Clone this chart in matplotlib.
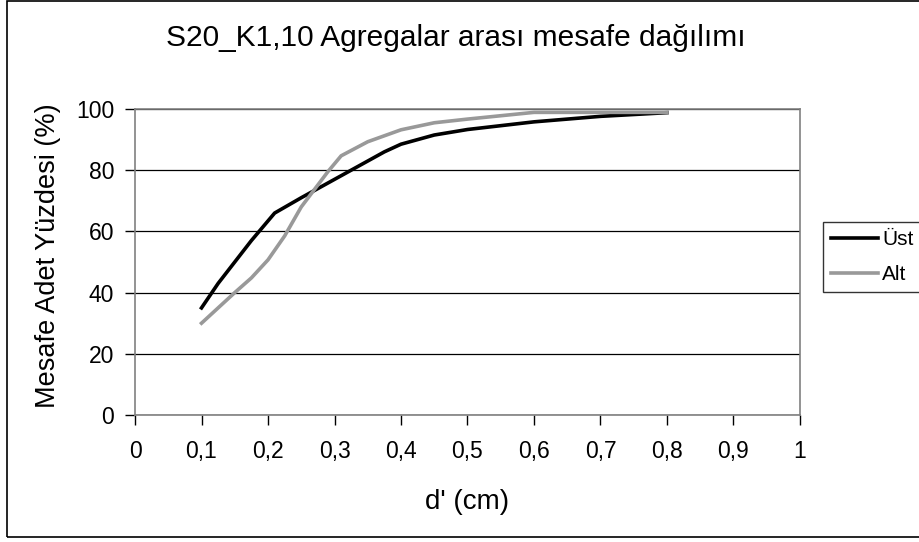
import matplotlib
matplotlib.use("Agg")
import matplotlib.pyplot as plt
from matplotlib.patches import Rectangle
from matplotlib.ticker import FuncFormatter

plt.rcParams["font.family"] = ["Liberation Sans", "DejaVu Sans"]

TITLE = "S20_K1,10 Agregalar arası mesafe dağılımı"
X_LABEL = "d' (cm)"
Y_LABEL = "Mesafe Adet Yüzdesi (%)"

# Cumulative share of distances, upper (Üst) and lower (Alt) layers
ust_d = [0.1, 0.125, 0.15, 0.175, 0.21, 0.25, 0.3, 0.35, 0.375, 0.4, 0.45, 0.5, 0.6, 0.7, 0.8]
ust_pct = [35, 43, 50, 57, 66, 71, 77, 83, 86, 88.5, 91.5, 93.3, 95.8, 97.6, 98.8]

alt_d = [0.1, 0.125, 0.15, 0.175, 0.2, 0.225, 0.25, 0.29, 0.31, 0.35, 0.4, 0.45, 0.5, 0.6, 0.7, 0.8]
alt_pct = [30, 35, 40, 44.8, 50.7, 58.5, 68, 79.5, 84.7, 89.3, 93.2, 95.5, 96.7, 98.9, 98.9, 98.9]

x_ticks = [0, 0.1, 0.2, 0.3, 0.4, 0.5, 0.6, 0.7, 0.8, 0.9, 1]
y_ticks = [0, 20, 40, 60, 80, 100]


def comma_fmt(v, _pos):
    s = f"{v:g}"
    return s.replace(".", ",")


fig = plt.figure(figsize=(9.2, 5.42), dpi=100)
# chart area frame (right edge runs past the canvas)
fig.patches.append(Rectangle((7.5 / 920, 5 / 542), 1.0, 536 / 542, transform=fig.transFigure,
                             fill=False, edgecolor="black", lw=1.2, zorder=0))

ax = fig.add_axes([135 / 920, 1 - 415 / 542, 665 / 920, 306 / 542])
ax.plot(ust_d, ust_pct, color="black", lw=2.6, label="Üst")
ax.plot(alt_d, alt_pct, color="#999999", lw=2.6, label="Alt")

ax.set_xlim(0, 1)
ax.set_ylim(0, 100)
ax.set_xticks(x_ticks)
ax.set_yticks(y_ticks)
ax.xaxis.set_major_formatter(FuncFormatter(comma_fmt))
ax.grid(axis="y", color="black", lw=0.9)
ax.set_axisbelow(True)
for side in ["top", "right", "left", "bottom"]:
    ax.spines[side].set_color("#808080")
    ax.spines[side].set_linewidth(1.2)
ax.tick_params(direction="out", length=7, width=1, color="black", labelsize=16.5)
ax.tick_params(axis="x", pad=11)
ax.tick_params(axis="y", pad=8)

ax.set_xlabel(X_LABEL, fontsize=20)
ax.set_ylabel(Y_LABEL, fontsize=19.5)
ax.yaxis.set_label_coords(-0.112, 0.52)
ax.xaxis.set_label_coords(0.5, -0.242)
fig.text(456 / 920, 1 - 38 / 542, TITLE, fontsize=21.5, ha="center", va="center")

leg = fig.legend(loc="upper left", bbox_to_anchor=(823 / 920, 1 - 222 / 542),
                 fontsize=15, frameon=True, fancybox=False, edgecolor="black",
                 handlelength=2.25, handletextpad=0.2, borderaxespad=0, borderpad=0.4,
                 labelspacing=0.75)
leg.get_frame().set_linewidth(1.0)

fig.savefig("out.png", dpi=100)
